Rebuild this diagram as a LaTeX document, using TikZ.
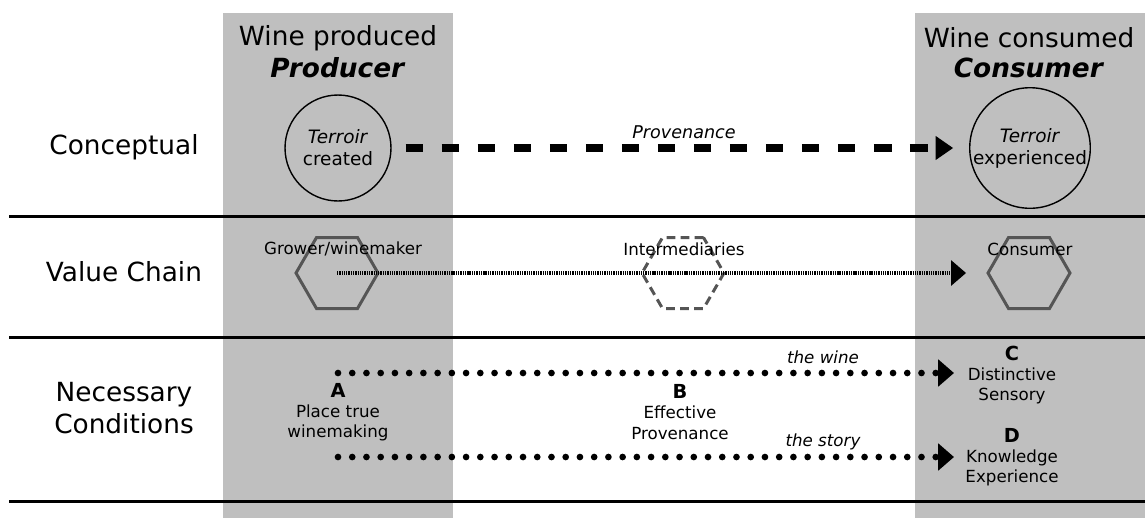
\documentclass[tikz,border=0pt]{standalone}
\usepackage{fontspec}
\setmainfont{DejaVu Sans}
\usepackage{xcolor}
\usepackage{tikz}
\usetikzlibrary{arrows.meta,shapes.geometric}
\definecolor{column}{RGB}{191,191,191}
\definecolor{hexline}{RGB}{85,85,85}

\begin{document}
\begin{tikzpicture}[x=0.02cm, y=-0.02cm,
  header/.style={font=\fontsize{15}{18}\selectfont, align=center, inner sep=0pt},
  rowlabel/.style={font=\fontsize{15}{18}\selectfont, align=center, inner sep=0pt},
  terroir/.style={circle, draw=black, line width=0.8pt, minimum size=2.12cm, inner sep=0pt, align=center, font=\fontsize{10.5}{12.5}\selectfont},
  actor/.style={regular polygon, regular polygon sides=6, draw=hexline, line width=1.7pt, minimum size=1.64cm, inner sep=0pt},
  smalltext/.style={font=\fontsize{9.5}{11.5}\selectfont, align=center, inner sep=0pt},
  rule/.style={line width=1.7pt},
  dotarrow/.style={line width=3.8pt, line cap=round, dash pattern=on 0pt off 8.1pt, -{Triangle[length=9pt, width=15pt, line cap=butt]}}
]
\useasboundingbox (0,0) rectangle (1145,518);

% Columns
\fill[column] (223,13) rectangle (453,518);
\fill[column] (915,13) rectangle (1145,518);

% Row rules
\draw[rule] (9,216) -- (1145,216);
\draw[rule] (9,337) -- (1145,337);
\draw[rule] (9,501) -- (1145,501);

% Headers
\node[header] (produced) at (338,38) {Wine produced};
\node[header] (producer) at (338,68) {\textbf{\textit{Producer}}};
\node[header] (consumed) at (1029,38) {Wine consumed};
\node[header] (consumerhead) at (1029,68) {\textbf{\textit{Consumer}}};

% Row labels
\node[rowlabel] (conceptual) at (124,147) {Conceptual};
\node[rowlabel] (valuechain) at (124,272) {Value Chain};
\node[rowlabel] (conditions) at (124,408) {Necessary\\Conditions};

% Conceptual
\node[terroir] (created) at (338,148) {\textit{Terroir}\\created};
\node[terroir] (experienced) at (1030,148) {\textit{Terroir}\\experienced};
\node[smalltext, font=\fontsize{10}{12}\selectfont\itshape] (provenance) at (684,132) {Provenance};
\draw[line width=4.5pt, dash pattern=on 10pt off 10.5pt, -{Triangle[length=10pt, width=13pt]}]
  (created.east) ++(14,0) coordinate (pstart) -- ([xshift=-9pt]experienced.west);

% Value chain
\node[actor] (grower) at (337,273) {};
\node[actor, dashed, dash pattern=on 5pt off 3pt] (middle) at (683,273) {};
\node[actor] (consumer) at (1029,273) {};
\node[smalltext] (growerlabel) at (343,249) {Grower/winemaker};
\node[smalltext] (middlelabel) at (684,249) {Intermediaries};
\node[smalltext] (consumerlabel) at (1030,249) {Consumer};
\draw[line width=2.4pt, draw=black, dash pattern=on 0.75pt off 0.55pt, -{Triangle[length=8.5pt, width=14pt]}]
  (grower.center) -- ([xshift=-11.5pt]consumer.west);

% Necessary conditions
\node[smalltext] (A) at (338,412) {{\fontsize{11}{12}\selectfont\textbf{A}}\\Place true\\winemaking};
\node[smalltext] (B) at (680,412) {{\fontsize{11}{12}\selectfont\textbf{B}}\\Effective\\Provenance};
\node[smalltext] (C) at (1012,375) {{\fontsize{11}{12}\selectfont\textbf{C}}\\Distinctive\\Sensory};
\node[smalltext] (D) at (1012,457) {{\fontsize{11}{12}\selectfont\textbf{D}}\\Knowledge\\Experience};
\node[smalltext, font=\fontsize{9.5}{11.5}\selectfont\itshape] (wine) at (823,357) {the wine};
\node[smalltext, font=\fontsize{9.5}{11.5}\selectfont\itshape] (story) at (823,442) {the story};
\coordinate (wstart) at (338,373);
\coordinate (wend) at (954,373);
\coordinate (sstart) at (338,457);
\coordinate (send) at (954,457);
\draw[dotarrow] (wstart) -- (wend);
\draw[dotarrow] (sstart) -- (send);

\end{tikzpicture}
\end{document}
